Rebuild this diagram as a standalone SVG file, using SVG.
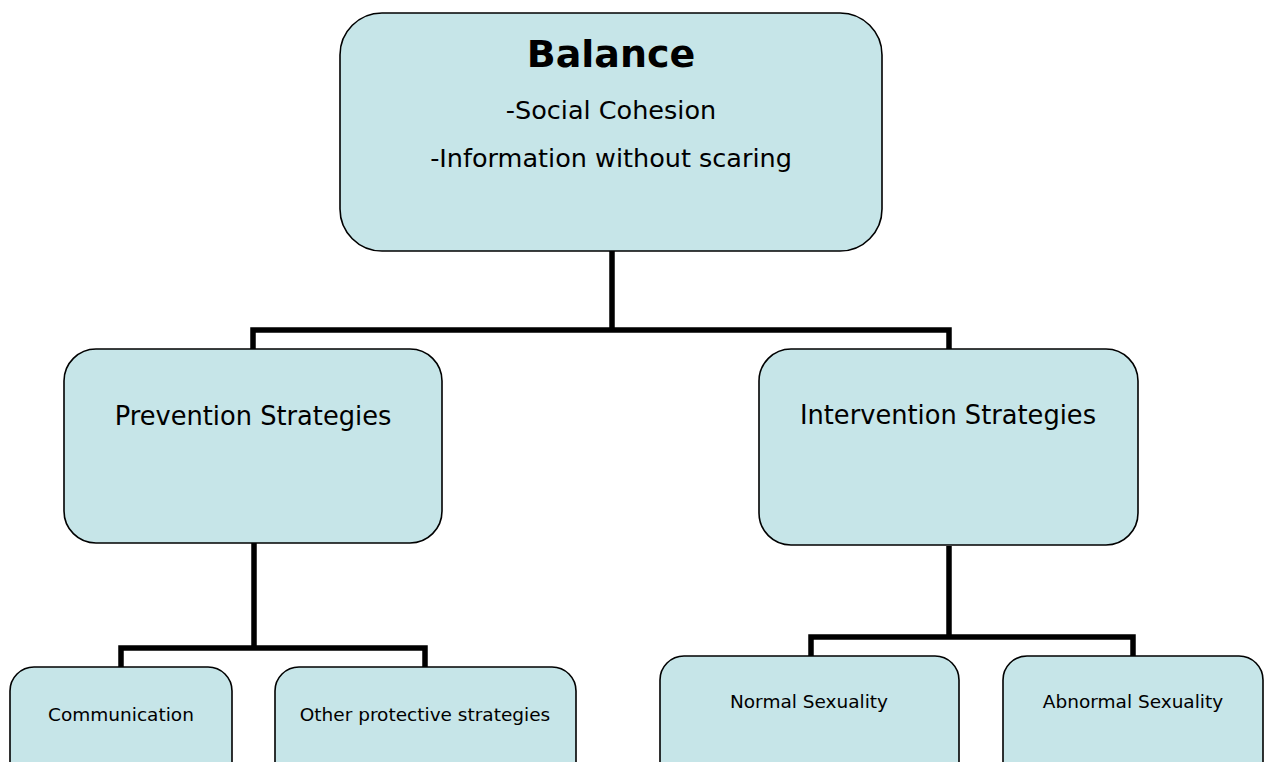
<svg xmlns="http://www.w3.org/2000/svg" width="1269" height="762" viewBox="0 0 1269 762">
<style>
.box{fill:#C6E5E8;stroke:#000;stroke-width:1.6}
.conn{fill:none;stroke:#000;stroke-width:5.5;stroke-linejoin:miter;stroke-linecap:butt}
text{font-family:"DejaVu Sans",Verdana,sans-serif;fill:#000;text-anchor:middle}
.t1{font-size:38px;font-weight:bold}
.t2{font-size:25.5px}
.t3{font-size:25.7px}
.t4{font-size:18.5px}
</style>
<rect width="1269" height="762" fill="#fff"/>
<g id="connectors">
<path class="conn" d="M612 251 V330 M253 349 V330 H949 V349"/>
<path class="conn" d="M254 543 V648 M121 668 V648 H425 V668"/>
<path class="conn" d="M949 546 V637 M811 657 V637 H1133 V657"/>
</g>
<g id="balance">
<rect class="box" x="340" y="13" width="542" height="238" rx="42" ry="42"/>
<text class="t1" x="611" y="67">Balance</text>
<text class="t2" x="611" y="119">-Social Cohesion</text>
<text class="t2" x="611" y="167">-Information without scaring</text>
</g>
<g id="prevention">
<rect class="box" x="64" y="349" width="378" height="194" rx="32" ry="32"/>
<text class="t3" x="253" y="425">Prevention Strategies</text>
</g>
<g id="intervention">
<rect class="box" x="759" y="349" width="379" height="196" rx="32" ry="32"/>
<text class="t3" x="948" y="424">Intervention Strategies</text>
</g>
<g id="communication">
<rect class="box" x="10" y="667" width="222" height="130" rx="24" ry="24"/>
<text class="t4" x="121" y="721">Communication</text>
</g>
<g id="other">
<rect class="box" x="275" y="667" width="301" height="130" rx="24" ry="24"/>
<text class="t4" x="425" y="721">Other protective strategies</text>
</g>
<g id="normal">
<rect class="box" x="660" y="656" width="299" height="130" rx="24" ry="24"/>
<text class="t4" x="809" y="708">Normal Sexuality</text>
</g>
<g id="abnormal">
<rect class="box" x="1003" y="656" width="260" height="130" rx="24" ry="24"/>
<text class="t4" x="1133" y="708">Abnormal Sexuality</text>
</g>
</svg>
